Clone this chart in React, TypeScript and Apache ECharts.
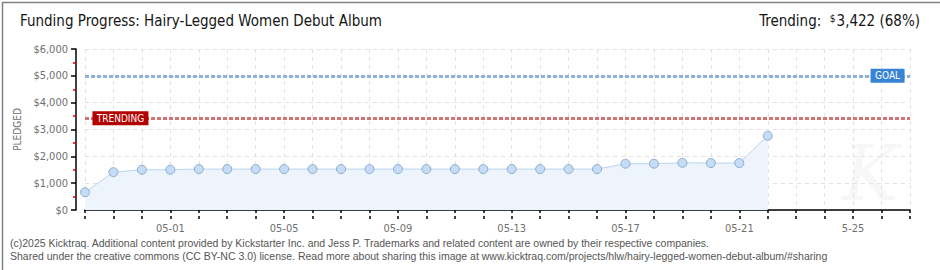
import React, { useEffect, useRef } from "react";
import * as echarts from "echarts";

const categories = [
  "04-28", "04-29", "04-30", "05-01", "05-02", "05-03", "05-04", "05-05", "05-06", "05-07",
  "05-08", "05-09", "05-10", "05-11", "05-12", "05-13", "05-14", "05-15", "05-16", "05-17",
  "05-18", "05-19", "05-20", "05-21", "05-22", "05-23", "05-24", "05-25", "05-26", "05-27",
];
const pledged = [
  660, 1410, 1500, 1500, 1525, 1525, 1525, 1525, 1525, 1525,
  1525, 1525, 1525, 1525, 1525, 1525, 1525, 1525, 1525, 1725,
  1725, 1760, 1750, 1750, 2765,
];
const xTickLabels: Record<string, string> = {
  "05-01": "05-01", "05-05": "05-05", "05-09": "05-09", "05-13": "05-13",
  "05-17": "05-17", "05-21": "05-21", "05-25": "5-25",
};
const goal = 5000;
const trending = 3422;
const title = "Funding Progress: Hairy-Legged Women Debut Album";
const trendingText = { label: "Trending:", amount: "3,422 (68%)" };
const footer = [
  "(c)2025 Kicktraq. Additional content provided by Kickstarter Inc. and Jess P. Trademarks and related content are owned by their respective companies.",
  "Shared under the creative commons (CC BY-NC 3.0) license. Read more about sharing this image at www.kicktraq.com/projects/hlw/hairy-legged-women-debut-album/#sharing",
];

const FONT = "'DejaVu Sans Condensed', 'DejaVu Sans', sans-serif";
const FOOT_FONT = "'Liberation Sans', Arial, sans-serif";

export default function App() {
  const ref = useRef<HTMLDivElement>(null);
  useEffect(() => {
    if (!ref.current) return;
    const chart = echarts.init(ref.current, undefined, { renderer: "svg" });
    const xCommon = {
      type: "category" as const,
      data: categories,
      boundaryGap: false,
      position: "bottom" as const,
      offset: 9,
    };
    chart.setOption({
      animation: false,
      backgroundColor: "#ffffff",
      grid: { left: 85, right: 30, top: 49, bottom: 60, containLabel: false },
      xAxis: [
        {
          ...xCommon,
          axisLine: { show: true, lineStyle: { color: "#000", width: 1.5 } },
          axisTick: { show: true, interval: 0, length: 3, lineStyle: { color: "#000", width: 1.5 } },
          axisLabel: {
            interval: (i: number) => xTickLabels[categories[i]] !== undefined,
            formatter: (v: string) => xTickLabels[v] ?? "",
            color: "#707070",
            fontFamily: FONT,
            fontSize: 11,
            margin: 4,
          },
          splitLine: { show: true, interval: 0, lineStyle: { color: "#e2e2e2", type: [4, 4], width: 1 } },
        },
        {
          ...xCommon,
          axisLine: { show: false },
          axisTick: { show: true, inside: true, interval: 0, length: 3, lineStyle: { color: "#000", width: 1.5 } },
          axisLabel: { show: false },
          splitLine: { show: false },
        },
      ],
      yAxis: {
        type: "value",
        min: 0,
        max: 6000,
        interval: 1000,
        offset: 9,
        name: "PLEDGED",
        nameLocation: "middle",
        nameRotate: 90,
        nameGap: 51,
        nameTextStyle: { color: "#707070", fontFamily: FONT, fontSize: 10 },
        axisLine: { show: true, lineStyle: { color: "#000", width: 1.5 } },
        axisTick: { show: true, length: 5, lineStyle: { color: "#000", width: 1.5 } },
        minorTick: { show: true, splitNumber: 2, length: 3, lineStyle: { color: "#e00000", width: 1.5 } },
        axisLabel: {
          formatter: (v: number) => "$" + v.toLocaleString("en-US"),
          color: "#707070",
          fontFamily: FONT,
          fontSize: 11,
          margin: 8,
        },
        splitLine: { show: true, lineStyle: { color: "#e2e2e2", type: [4, 4], width: 1 } },
      },
      series: [
        {
          type: "line",
          data: pledged,
          xAxisIndex: 0,
          symbol: "circle",
          symbolSize: 9,
          itemStyle: { color: "#c4dcf6", borderColor: "#8fabcc", borderWidth: 1 },
          lineStyle: { color: "#b9d4f0", width: 1 },
          areaStyle: { color: "#edf4fc", opacity: 1 },
          z: 3,
          markLine: {
            silent: true,
            symbol: "none",
            label: { show: false },
            data: [
              { yAxis: goal, lineStyle: { color: "#8fb2dc", type: [4, 2], width: 3 } },
              { yAxis: trending, lineStyle: { color: "#d27474", type: [4, 2], width: 3 } },
            ],
          },
          markPoint: {
            silent: true,
            data: [
              {
                coord: ["05-26", goal],
                symbol: "rect",
                symbolSize: [34, 14],
                symbolOffset: [6, 0],
                itemStyle: { color: "#3784d4" },
                label: {
                  show: true,
                  formatter: "GOAL",
                  color: "#fff",
                  fontFamily: FONT,
                  fontSize: 10,
                },
              },
              {
                coord: ["04-29", trending],
                symbol: "rect",
                symbolSize: [56, 14],
                symbolOffset: [7, 0],
                itemStyle: { color: "#b30000" },
                label: {
                  show: true,
                  formatter: "TRENDING",
                  color: "#fff",
                  fontFamily: FONT,
                  fontSize: 10,
                },
              },
            ],
          },
        },
      ],
      graphic: [
        {
          type: "text",
          left: 842,
          top: 135,
          z: 0,
          style: {
            text: "K",
            fontSize: 76,
            fontStyle: "italic",
            fontFamily: "'DejaVu Serif', serif",
            fill: "#f7f7f7",
          },
        },
        {
          type: "text",
          left: 20,
          top: 13,
          style: { text: title, fontSize: 15, fontFamily: FONT, fill: "#151515" },
        },
        {
          type: "text",
          right: 20,
          top: 13,
          style: {
            text: trendingText.label + "  {s|$}" + trendingText.amount,
            fontSize: 15,
            fontFamily: FONT,
            fill: "#151515",
            rich: { s: { fontSize: 10, fontFamily: FONT, fill: "#151515", verticalAlign: "top", padding: [0, 1, 6, 0] } },
          },
        },
        {
          type: "text",
          left: 10,
          top: 237,
          style: { text: footer[0], fontSize: 10.5, fontFamily: FOOT_FONT, fill: "#555" },
        },
        {
          type: "text",
          left: 10,
          top: 250,
          style: { text: footer[1], fontSize: 10.5, fontFamily: FOOT_FONT, fill: "#555" },
        },
        {
          type: "rect",
          left: 0,
          top: 0,
          shape: { x: 0, y: 0, width: 939, height: 269 },
          style: { fill: "none", stroke: "#808080", lineWidth: 1.5 },
        },
      ],
    });
    return () => chart.dispose();
  }, []);
  return (
    <div style={{ position: "absolute", left: 0, top: 0, width: 940, height: 270 }}>
      <div ref={ref} style={{ width: 940, height: 270 }} />
    </div>
  );
}
